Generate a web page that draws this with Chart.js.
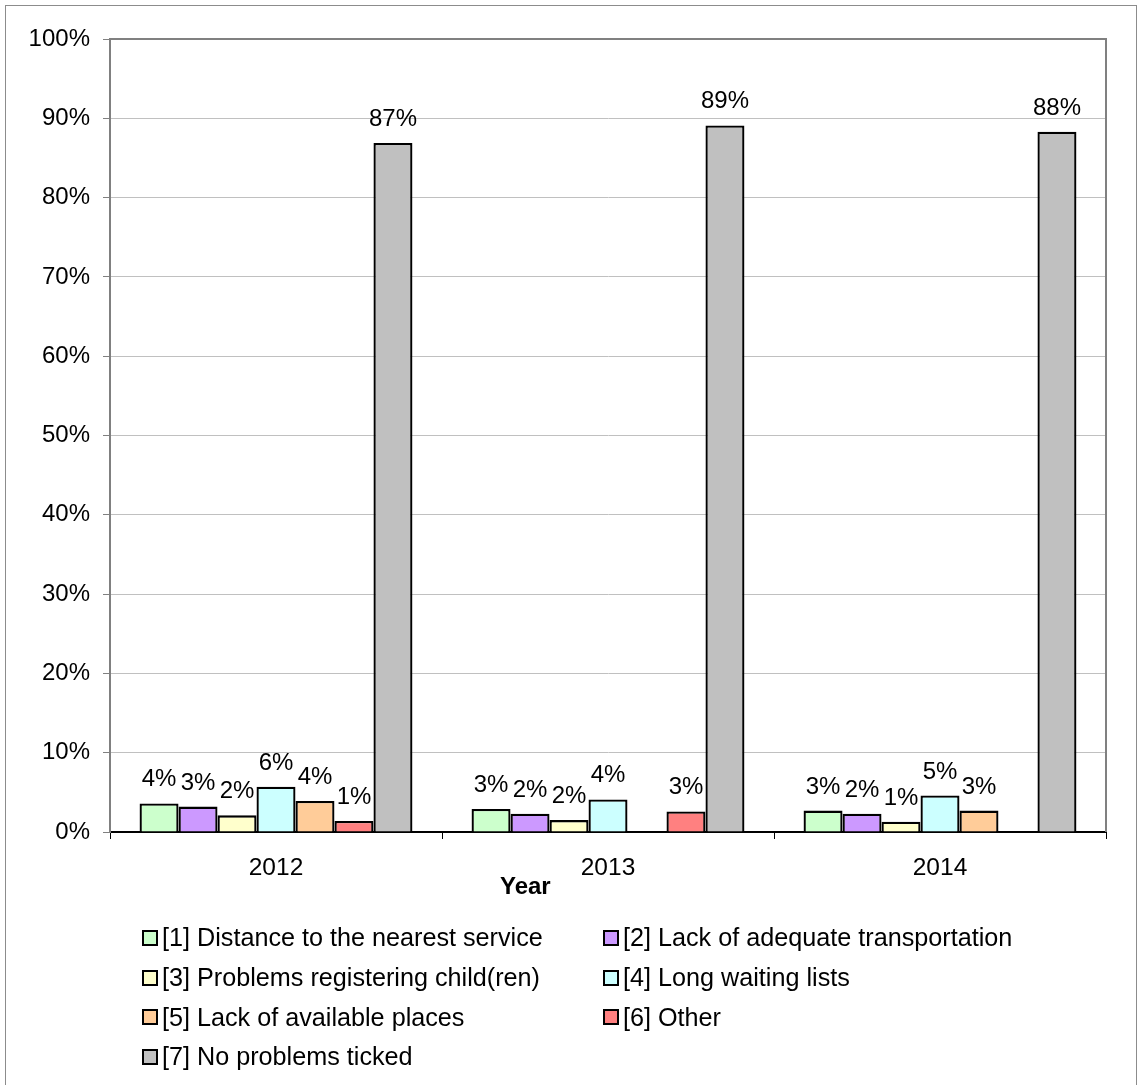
<!DOCTYPE html>
<html>
<head>
<meta charset="utf-8">
<script src="https://cdn.jsdelivr.net/npm/chart.js@4/dist/chart.umd.min.js"></script>
<style>
  html, body { margin: 0; padding: 0; background: #fff; overflow: hidden; }
  #wrap { position: relative; width: 1139px; height: 1085px; font-family: "Liberation Sans", Arial, sans-serif; }
  #frame { position: absolute; left: 5px; top: 5px; width: 1132px; height: 1200px; border: 1.5px solid #8c8c8c; box-sizing: border-box; }
  canvas { position: absolute; left: 0; top: 0; }
  #legend { position: absolute; left: 142px; top: 918px; display: grid; grid-template-columns: 461px 461px; grid-auto-rows: 39.7px; font-size: 25.2px; color: #000; }
  .item { display: flex; align-items: center; white-space: nowrap; }
  .box { width: 16px; height: 16px; border: 2px solid #000; box-sizing: border-box; margin-right: 4px; }
</style>
</head>
<body>
<div id="wrap">
  <div id="frame"></div>
  <canvas id="chart" width="1139" height="1085"></canvas>
  <div id="legend"></div>
</div>
<script>
// Survey years
const years = ['2012', '2013', '2014'];

// Share of respondents per reported problem (%)
const distanceNearest   = [3.6, 2.9, 2.7];
const lackTransport     = [3.2, 2.3, 2.3];
const problemsRegister  = [2.1, 1.5, 1.3];
const longWaitingLists  = [5.7, 4.1, 4.6];
const lackPlaces        = [3.9, null, 2.7];
const otherProblem      = [1.4, 2.6, null];
const noProblems        = [86.9, 89.1, 88.3];

const seriesNames = [
  '[1] Distance to the nearest service',
  '[2] Lack of adequate transportation',
  '[3] Problems registering child(ren)',
  '[4] Long waiting lists',
  '[5] Lack of available places',
  '[6] Other',
  '[7] No problems ticked'
];
const seriesColors = ['#CCFFCC', '#CC99FF', '#FFFFCC', '#CCFFFF', '#FFCC99', '#FF8080', '#C0C0C0'];
const seriesValues = [distanceNearest, lackTransport, problemsRegister, longWaitingLists, lackPlaces, otherProblem, noProblems];

const yTicks = [0, 10, 20, 30, 40, 50, 60, 70, 80, 90, 100];
const xTitle = 'Year';

const FONT = '"Liberation Sans", Arial, sans-serif';

// Grey frame around the plotting area
const plotFrame = {
  id: 'plotFrame',
  afterDraw(chart) {
    const { ctx, chartArea: a } = chart;
    ctx.save();
    ctx.strokeStyle = '#808080';
    ctx.lineWidth = 2;
    ctx.beginPath();
    ctx.moveTo(a.left, a.top);
    ctx.lineTo(a.right, a.top);
    ctx.lineTo(a.right, a.bottom);
    ctx.stroke();
    ctx.restore();
  }
};

// Percentage labels above each bar
const barLabels = {
  id: 'barLabels',
  afterDatasetsDraw(chart) {
    const { ctx } = chart;
    ctx.save();
    ctx.font = '24px ' + FONT;
    ctx.fillStyle = '#000';
    ctx.textAlign = 'center';
    ctx.textBaseline = 'alphabetic';
    chart.data.datasets.forEach((ds, i) => {
      const meta = chart.getDatasetMeta(i);
      meta.data.forEach((bar, j) => {
        const v = ds.data[j];
        if (v === null || v === undefined) return;
        ctx.fillText(Math.round(v) + '%', bar.x, bar.y - 17);
      });
    });
    ctx.restore();
  }
};

// Axis title under the category labels
const axisTitle = {
  id: 'axisTitle',
  afterDraw(chart) {
    const { ctx, chartArea: a } = chart;
    const xs = chart.scales.x;
    ctx.save();
    ctx.font = 'bold 24px ' + FONT;
    ctx.fillStyle = '#000';
    ctx.textAlign = 'center';
    ctx.textBaseline = 'middle';
    ctx.fillText(xTitle, a.left + a.width * 0.417, xs.top + 55);
    ctx.restore();
  }
};

const chart = new Chart(document.getElementById('chart'), {
  type: 'bar',
  data: {
    labels: years,
    datasets: seriesNames.map((name, i) => ({
      label: name,
      data: seriesValues[i],
      backgroundColor: seriesColors[i],
      borderColor: '#000',
      borderWidth: 2.3,
      categoryPercentage: 0.822,
      barPercentage: 1
    }))
  },
  options: {
    responsive: false,
    animation: false,
    layout: { padding: { left: 0, top: 39, right: 33, bottom: 0 } },
    plugins: {
      legend: { display: false },
      tooltip: { enabled: false }
    },
    scales: {
      x: {
        afterFit(s) { s.height = 1085 - 832; },
        grid: {
          offset: true,
          drawOnChartArea: false,
          drawTicks: true,
          tickLength: 7,
          color: '#000',
          lineWidth: 1
        },
        border: { color: '#000', width: 2 },
        ticks: { color: '#000', font: { family: FONT, size: 24.5 }, padding: 15 }
      },
      y: {
        min: 0,
        max: 100,
        afterFit(s) { s.width = 110; },
        afterBuildTicks(s) { s.ticks = yTicks.map(v => ({ value: v })); },
        grid: {
          color: '#c0c0c0',
          lineWidth: 1,
          tickLength: 7,
          tickColor: '#808080'
        },
        border: { color: '#808080', width: 2 },
        ticks: {
          color: '#000',
          font: { family: FONT, size: 24 },
          padding: 13,
          callback: v => v + '%'
        }
      }
    }
  },
  plugins: [plotFrame, barLabels, axisTitle]
});

// Two-column legend built from the chart's datasets
const legendEl = document.getElementById('legend');
chart.data.datasets.forEach(ds => {
  const item = document.createElement('div');
  item.className = 'item';
  const box = document.createElement('span');
  box.className = 'box';
  box.style.background = ds.backgroundColor;
  const txt = document.createElement('span');
  txt.textContent = ds.label;
  item.appendChild(box);
  item.appendChild(txt);
  legendEl.appendChild(item);
});
</script>
</body>
</html>
